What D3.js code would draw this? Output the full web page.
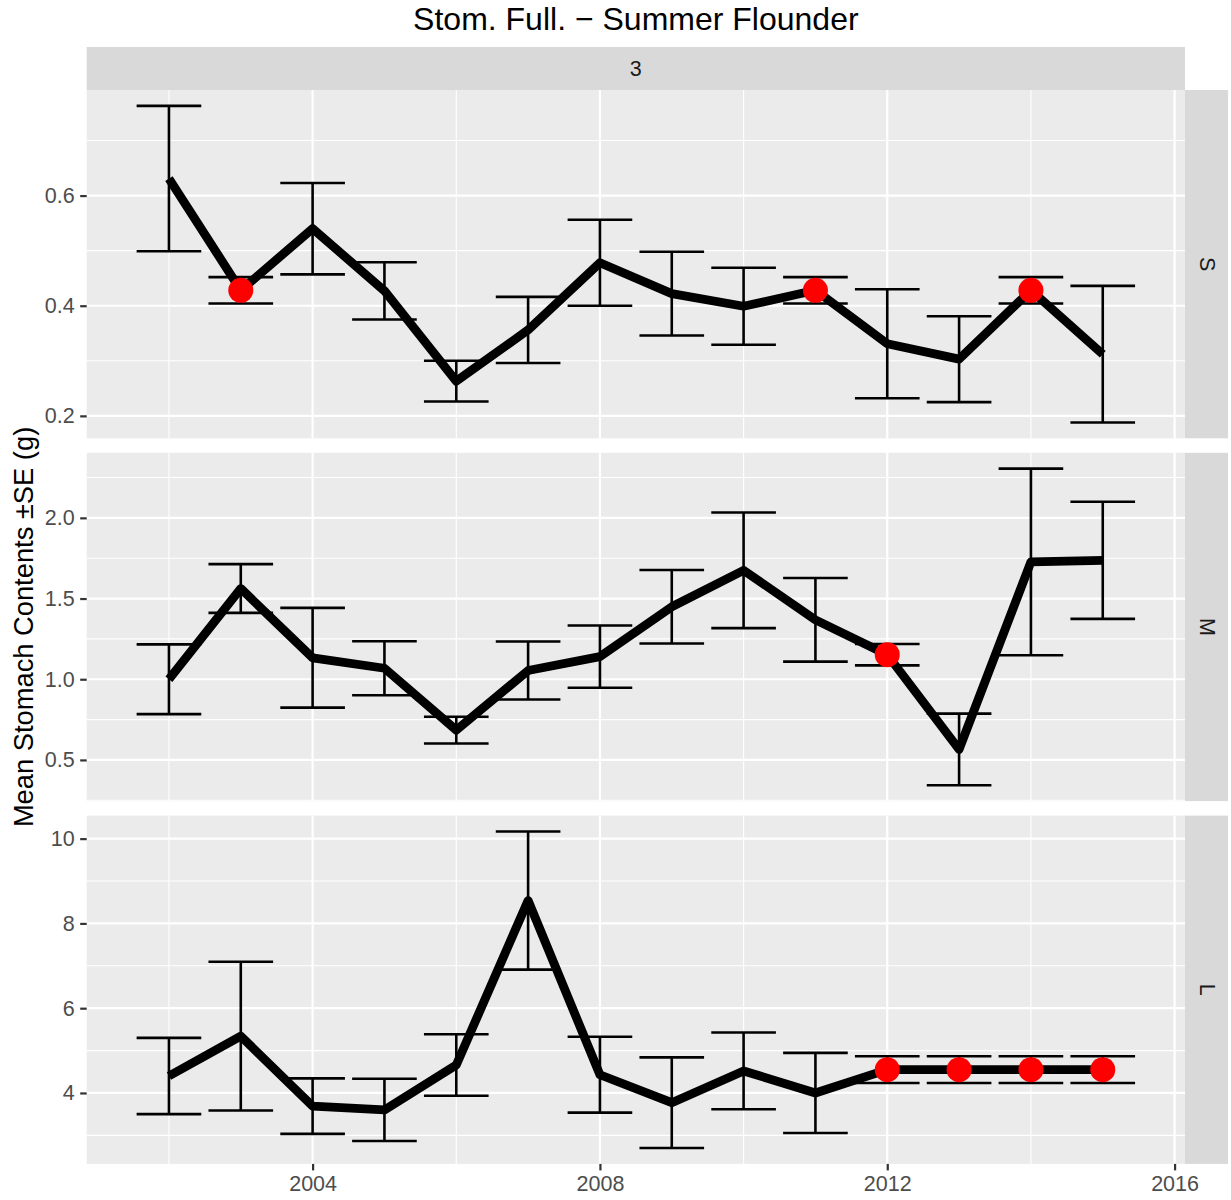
<!DOCTYPE html>
<html>
<head>
<meta charset="utf-8">
<script src="https://cdn.jsdelivr.net/npm/d3@7"></script>
<style>
  html, body { margin: 0; padding: 0; background: #ffffff; }
  svg { display: block; }
  text { font-family: "Liberation Sans", Arial, Helvetica, sans-serif; }
</style>
</head>
<body>
<div id="chart"></div>
<script>
// Mean stomach contents (g) of summer flounder by year, size class S / M / L
const years = [2002, 2003, 2004, 2005, 2006, 2007, 2008, 2009, 2010, 2011, 2012, 2013, 2014, 2015];
const sizeClasses = ["S", "M", "L"];
const regionLabel = "3";

const meanS = [0.631, 0.428, 0.540, 0.427, 0.263, 0.356, 0.478, 0.422, 0.399, 0.428, 0.331, 0.303, 0.428, 0.312];
const seS   = [0.132, 0.024, 0.083, 0.052, 0.037, 0.060, 0.078, 0.076, 0.070, 0.024, 0.099, 0.078, 0.024, 0.124];
const meanM = [1.000, 1.562, 1.133, 1.068, 0.685, 1.054, 1.140, 1.449, 1.675, 1.368, 1.152, 0.565, 1.727, 1.737];
const seM   = [0.216, 0.151, 0.309, 0.167, 0.083, 0.180, 0.193, 0.228, 0.358, 0.259, 0.066, 0.222, 0.578, 0.363];
const meanL = [4.40, 5.34, 3.69, 3.60, 4.66, 8.54, 4.43, 3.77, 4.52, 4.00, 4.55, 4.55, 4.55, 4.55];
const seL   = [0.90, 1.755, 0.655, 0.735, 0.725, 1.63, 0.895, 1.07, 0.905, 0.945, 0.315, 0.315, 0.315, 0.315];

// years whose value was filled in (highlighted in red)
const filledS = [2003, 2011, 2014];
const filledM = [2012];
const filledL = [2012, 2013, 2014, 2015];

const xTicks = [2004, 2008, 2012, 2016];
const yTicksS = [0.2, 0.4, 0.6];
const yTicksM = [0.5, 1.0, 1.5, 2.0];
const yTicksL = [4, 6, 8, 10];
const yTickLabelsS = ["0.2", "0.4", "0.6"];
const yTickLabelsM = ["0.5", "1.0", "1.5", "2.0"];
const yTickLabelsL = ["4", "6", "8", "10"];

const chartTitle = "Stom. Full. \u2212 Summer Flounder";
const yTitle = "Mean Stomach Contents \u00b1SE (g)";

// ---- layout ----
const W = 1231, H = 1200;
const panelLeft = 86.7, panelRight = 1185;
const stripW = 43;
const topStrip = { y0: 47, y1: 90 };
const panelTop0 = 90, panelH = 348.3, panelGap = 14.5;
const errWidth = 0.9;           // error-bar cap width in years
const colors = { panel: "#EBEBEB", strip: "#D9D9D9", grid: "#FFFFFF", tick: "#333333", tickText: "#4D4D4D", stripText: "#1A1A1A" };

const panels = [
  { key: "S", mean: meanS, se: seS, filled: filledS, ticks: yTicksS, labels: yTickLabelsS },
  { key: "M", mean: meanM, se: seM, filled: filledM, ticks: yTicksM, labels: yTickLabelsM },
  { key: "L", mean: meanL, se: seL, filled: filledL, ticks: yTicksL, labels: yTickLabelsL }
];

const svg = d3.select("#chart").append("svg").attr("width", W).attr("height", H);

// shared x scale with 5% expansion around the error-bar extents
const xMin = d3.min(years) - errWidth / 2, xMax = d3.max(years) + errWidth / 2;
const xPad = (xMax - xMin) * 0.05;
const x = d3.scaleLinear().domain([xMin - xPad, xMax + xPad]).range([panelLeft, panelRight]);

function minorBetween(ticks, domain) {
  const step = ticks[1] - ticks[0];
  const out = [];
  for (let v = ticks[0] - step / 2; v <= ticks[ticks.length - 1] + step / 2 + 1e-9; v += step) {
    if (v >= domain[0] && v <= domain[1]) out.push(v);
  }
  return out;
}

// title
svg.append("text")
  .attr("x", (panelLeft + panelRight) / 2).attr("y", 30)
  .attr("text-anchor", "middle")
  .attr("font-size", 32).attr("fill", "#000")
  .text(chartTitle);

// top strip
svg.append("rect")
  .attr("x", panelLeft).attr("y", topStrip.y0)
  .attr("width", panelRight - panelLeft).attr("height", topStrip.y1 - topStrip.y0)
  .attr("fill", colors.strip);
svg.append("text")
  .attr("x", (panelLeft + panelRight) / 2).attr("y", (topStrip.y0 + topStrip.y1) / 2)
  .attr("text-anchor", "middle").attr("dominant-baseline", "central")
  .attr("font-size", 21.5).attr("fill", colors.stripText)
  .text(regionLabel);

const xMinor = minorBetween(xTicks, x.domain());

panels.forEach((p, i) => {
  const top = panelTop0 + i * (panelH + panelGap);
  const bottom = top + panelH;
  const rows = years.map((yr, j) => ({
    year: yr, mean: p.mean[j], lo: p.mean[j] - p.se[j], hi: p.mean[j] + p.se[j],
    filled: p.filled.includes(yr)
  }));
  const lo = d3.min(rows, d => d.lo), hi = d3.max(rows, d => d.hi);
  const pad = (hi - lo) * 0.05;
  const y = d3.scaleLinear().domain([lo - pad, hi + pad]).range([bottom, top]);

  const g = svg.append("g");
  g.append("rect")
    .attr("x", panelLeft).attr("y", top)
    .attr("width", panelRight - panelLeft).attr("height", panelH)
    .attr("fill", colors.panel);

  // minor grid
  const yMinor = minorBetween(p.ticks, y.domain());
  g.selectAll(".ymin").data(yMinor).join("line")
    .attr("x1", panelLeft).attr("x2", panelRight)
    .attr("y1", d => y(d)).attr("y2", d => y(d))
    .attr("stroke", colors.grid).attr("stroke-width", 1.1);
  g.selectAll(".xmin").data(xMinor).join("line")
    .attr("x1", d => x(d)).attr("x2", d => x(d))
    .attr("y1", top).attr("y2", bottom)
    .attr("stroke", colors.grid).attr("stroke-width", 1.1);
  // major grid
  g.selectAll(".ymaj").data(p.ticks).join("line")
    .attr("x1", panelLeft).attr("x2", panelRight)
    .attr("y1", d => y(d)).attr("y2", d => y(d))
    .attr("stroke", colors.grid).attr("stroke-width", 2.2);
  g.selectAll(".xmaj").data(xTicks).join("line")
    .attr("x1", d => x(d)).attr("x2", d => x(d))
    .attr("y1", top).attr("y2", bottom)
    .attr("stroke", colors.grid).attr("stroke-width", 2.2);

  // y axis
  const yAxis = d3.axisLeft(y).tickValues(p.ticks)
    .tickFormat((d, k) => p.labels[k]).tickSize(6.5).tickPadding(5.5);
  const ya = svg.append("g").attr("transform", `translate(${panelLeft},0)`).call(yAxis);
  ya.select(".domain").remove();
  ya.selectAll(".tick line").attr("stroke", colors.tick).attr("stroke-width", 2.2);
  ya.selectAll(".tick text").attr("fill", colors.tickText).attr("font-size", 21.5)
    .attr("font-family", "'Liberation Sans', Arial, sans-serif");

  // error bars
  const eb = g.append("g").attr("stroke", "#000").attr("stroke-width", 2.6).attr("fill", "none");
  eb.selectAll(".v").data(rows).join("line")
    .attr("x1", d => x(d.year)).attr("x2", d => x(d.year))
    .attr("y1", d => y(d.lo)).attr("y2", d => y(d.hi));
  eb.selectAll(".cl").data(rows).join("line")
    .attr("x1", d => x(d.year - errWidth / 2)).attr("x2", d => x(d.year + errWidth / 2))
    .attr("y1", d => y(d.lo)).attr("y2", d => y(d.lo));
  eb.selectAll(".ch").data(rows).join("line")
    .attr("x1", d => x(d.year - errWidth / 2)).attr("x2", d => x(d.year + errWidth / 2))
    .attr("y1", d => y(d.hi)).attr("y2", d => y(d.hi));

  // mean line
  g.append("path").datum(rows)
    .attr("d", d3.line().x(d => x(d.year)).y(d => y(d.mean)))
    .attr("fill", "none").attr("stroke", "#000").attr("stroke-width", 8.8)
    .attr("stroke-linejoin", "round").attr("stroke-linecap", "butt");

  // filled-in years
  g.selectAll(".pt").data(rows.filter(d => d.filled)).join("circle")
    .attr("cx", d => x(d.year)).attr("cy", d => y(d.mean)).attr("r", 12.5)
    .attr("fill", "#FF0000");

  // right strip
  svg.append("rect")
    .attr("x", panelRight).attr("y", top).attr("width", stripW).attr("height", panelH)
    .attr("fill", colors.strip);
  svg.append("text")
    .attr("transform", `translate(${panelRight + stripW / 2},${top + panelH / 2}) rotate(90)`)
    .attr("text-anchor", "middle").attr("dominant-baseline", "central")
    .attr("font-size", 21.5).attr("fill", colors.stripText)
    .text(p.key);

  // x axis under the last panel
  if (i === panels.length - 1) {
    const xAxis = d3.axisBottom(x).tickValues(xTicks).tickFormat(d3.format("d"))
      .tickSize(6.5).tickPadding(5);
    const xa = svg.append("g").attr("transform", `translate(0,${bottom})`).call(xAxis);
    xa.select(".domain").remove();
    xa.selectAll(".tick line").attr("stroke", colors.tick).attr("stroke-width", 2.2);
    xa.selectAll(".tick text").attr("fill", colors.tickText).attr("font-size", 21.5)
      .attr("font-family", "'Liberation Sans', Arial, sans-serif");
  }
});

// y axis title
const panelsMid = (panelTop0 + panelTop0 + 3 * panelH + 2 * panelGap) / 2;
svg.append("text")
  .attr("transform", `translate(33,${panelsMid}) rotate(-90)`)
  .attr("text-anchor", "middle")
  .attr("font-size", 27.3).attr("fill", "#000")
  .text(yTitle);
</script>
</body>
</html>
